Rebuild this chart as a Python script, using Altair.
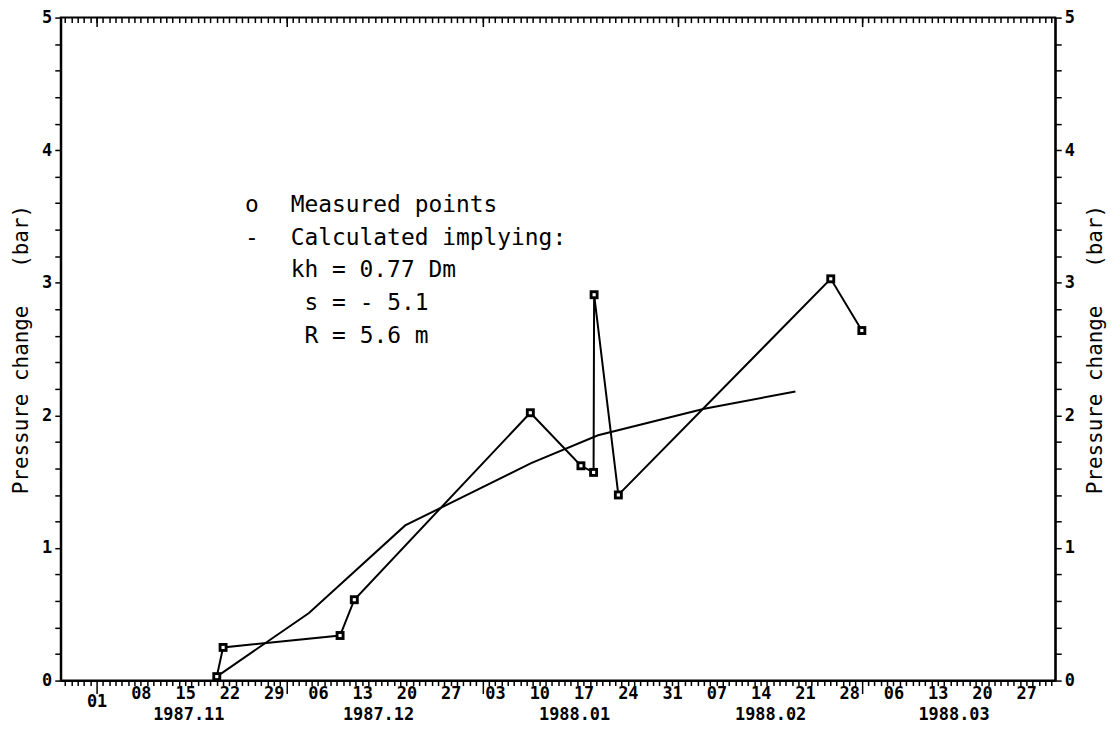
import altair as alt
import pandas as pd
from datetime import date, timedelta

# ---------------- data ----------------
meas_dates = ["1987-11-20T00:00", "1987-11-21T00:00", "1987-12-09T12:00", "1987-12-11T18:00",
              "1988-01-08T14:00", "1988-01-16T14:00", "1988-01-18T14:00", "1988-01-18T16:00",
              "1988-01-22T12:00", "1988-02-25T02:00", "1988-03-01T00:00"]
meas_vals = [0.03, 0.25, 0.34, 0.61, 2.02, 1.62, 1.57, 2.91, 1.40, 3.03, 2.64]

calc_dates = ["1987-11-20T00:00", "1987-12-04T14:00", "1987-12-19T19:00", "1988-01-08T17:00",
              "1988-01-19T07:00", "1988-02-05T02:00", "1988-02-19T12:00"]
calc_vals = [0.03, 0.51, 1.17, 1.64, 1.85, 2.05, 2.18]

legend_symbols = ["o", "-"]
legend_lines = ["Measured points", "Calculated implying:", "kh = 0.77 Dm", " s = - 5.1", " R = 5.6 m"]

y_title = "Pressure change\u00a0\u00a0 (bar)"
month_label_days = [(1987, 11), (1987, 12), (1988, 1), (1988, 2), (1988, 3)]

# ---------------- tables ----------------
meas_df = pd.DataFrame({"date": meas_dates, "val": meas_vals, "idx": list(range(len(meas_vals)))})
calc_df = pd.DataFrame({"date": calc_dates, "val": calc_vals, "idx": list(range(len(calc_vals)))})

FONT = "DejaVu Sans Mono"
LBL = 17

x_scale = alt.Scale(domain=[alt.DateTime(year=1987, month=10, date=26, hours=8),
                            alt.DateTime(year=1988, month=3, date=31, hours=14)])
y_scale = alt.Scale(domain=[0, 5], nice=False)

d0 = date(1987, 10, 27)
days = [d0 + timedelta(i) for i in range((date(1988, 3, 31) - d0).days + 1)]
day_vals = [alt.DateTime(year=d.year, month=d.month, date=d.day) for d in days]
month_vals = [alt.DateTime(year=y, month=m, date=15, hours=12) for y, m in month_label_days]
month_starts = [alt.DateTime(year=y, month=m, date=1) for y, m in month_label_days]
y_ticks = [round(i * 0.2, 1) for i in range(26)]

common = dict(grid=False, labelFont=FONT, labelFontSize=LBL, labelFontWeight="bold",
              labelColor="black", tickColor="black", tickWidth=1.5,
              domainColor="black", domainWidth=2, labelOverlap=False, labelFlush=False)

ax_bottom_days = alt.Axis(
    orient="bottom", values=day_vals, title=None,
    tickSize={"condition": {"test": "date(datum.value) == 1", "value": 13}, "value": 5},
    labelExpr="(round((datum.value - datetime(1987, 10, 1)) / 86400000) % 7 == 0) ? timeFormat(datum.value, '%d') : ''",
    labelPadding=0, **common)

ax_months = alt.Axis(orient="bottom", values=month_vals, title=None, format="%Y.%m",
                     ticks=False, domain=False, labelPadding=26, **common)

ax_top_days = alt.Axis(orient="top", values=day_vals, title=None, labels=False,
                       domain=False, offset=-5, tickSize=5, **common)

ax_top_months = alt.Axis(orient="top", values=month_starts, title=None, labels=False,
                         domain=False, offset=-9, tickSize=9, **common)

y_common = dict(values=y_ticks, tickSize=6, labelPadding=3,
                labelExpr="abs(datum.value - round(datum.value)) < 0.01 ? format(datum.value, 'd') : ''",
                title=y_title, titleFont=FONT, titleFontSize=21, titleFontWeight="normal",
                titleColor="black", **common)
ax_left = alt.Axis(orient="left", titlePadding=10, **y_common)
ax_right = alt.Axis(orient="right", titleAngle=270, titleBaseline="top", titlePadding=10, **y_common)

curve = alt.Chart(calc_df).mark_line(color="black", strokeWidth=2).encode(
    x=alt.X("date:T", scale=x_scale, axis=ax_bottom_days),
    y=alt.Y("val:Q", scale=y_scale, axis=ax_left),
    order="idx:Q")

mline = alt.Chart(meas_df).mark_line(color="black", strokeWidth=2).encode(
    x=alt.X("date:T", scale=x_scale, axis=ax_months),
    y=alt.Y("val:Q", scale=y_scale, axis=ax_right),
    order="idx:Q")

outer = alt.Chart(meas_df).mark_square(color="black", size=80, opacity=1).encode(
    x=alt.X("date:T", scale=x_scale, axis=ax_top_days),
    y=alt.Y("val:Q", scale=y_scale, axis=None))

inner = alt.Chart(meas_df).mark_square(color="white", size=10, opacity=1).encode(
    x=alt.X("date:T", scale=x_scale, axis=ax_top_months),
    y=alt.Y("val:Q", scale=y_scale, axis=None))

CHAR_W = 13.9
texts = []
for i, s in enumerate(legend_symbols):
    texts.append(alt.Chart(pd.DataFrame({"t": [s]})).mark_text(
        font=FONT, fontSize=23, color="black", align="center", baseline="middle").encode(
        text="t:N", x=alt.value(192), y=alt.value(188 + 33 * i)))
for i, s in enumerate(legend_lines):
    indent = len(s) - len(s.lstrip(" "))
    texts.append(alt.Chart(pd.DataFrame({"t": [s.strip()]})).mark_text(
        font=FONT, fontSize=23, color="black", align="left", baseline="middle").encode(
        text="t:N", x=alt.value(231 + CHAR_W * indent), y=alt.value(188 + 33 * i)))

chart = alt.layer(curve, mline, outer, inner, *texts).resolve_axis(
    x="independent", y="independent"
).properties(
    width=999, height=666,
    autosize=alt.AutoSizeParams(type="none"),
    padding={"left": 53, "top": 8, "right": 57, "bottom": 45},
    background="white",
).configure_view(stroke="black", strokeWidth=2)

chart.save("out.html", embed_options={"renderer": "svg", "actions": False})
